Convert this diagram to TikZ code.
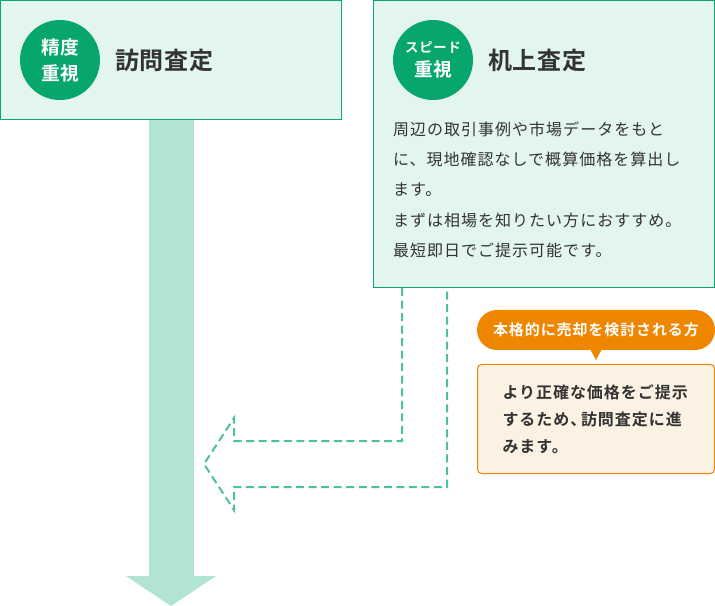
\documentclass[tikz,border=0pt]{standalone}
\usepackage{fontspec}
\usepackage{xcolor}
\usetikzlibrary{positioning,shapes}
\newfontfamily\cjkbody[LetterSpace=6.4]{Noto Sans CJK JP}
\newfontfamily\cjknote[LetterSpace=6,BoldFont={Noto Sans CJK JP Bold}]{Noto Sans CJK JP}
\newfontfamily\cjkhead[LetterSpace=6,BoldFont={Noto Sans CJK JP Bold}]{Noto Sans CJK JP}
\newfontfamily\cjktitle[LetterSpace=3.5,BoldFont={Noto Sans CJK JP Bold}]{Noto Sans CJK JP}
\definecolor{panelline}{HTML}{06A66D}
\definecolor{panelfill}{HTML}{E3F5EF}
\definecolor{flowfill}{HTML}{B2E4D2}
\definecolor{dashline}{HTML}{4EC197}
\definecolor{calloutfill}{HTML}{EF8600}
\definecolor{notefill}{HTML}{FCF2E4}
\definecolor{inktext}{HTML}{333333}
\begin{document}
\begin{tikzpicture}[x=0.75pt,y=-0.75pt]
\tikzstyle{every node}+=[inner sep=0pt,outer sep=0pt]
\tikzstyle{panel}=[draw=panelline,fill=panelfill,line width=0.75pt,anchor=north west]
\tikzstyle{badge}=[circle,fill=panelline,minimum size=60pt,text=white,align=center,font=\cjktitle\bfseries\fontsize{14}{19.5}\selectfont]
\tikzstyle{title}=[anchor=west,text=inktext,font=\cjktitle\bfseries\fontsize{18}{20}\selectfont]
\tikzstyle{body}=[anchor=north west,align=left,text=inktext,font=\cjkbody\fontsize{12}{22.6}\selectfont]
\useasboundingbox (0,0) rectangle (715,606);
% flow arrow behind the panels
\fill [flowfill] (149,119) -- (194,119) -- (194,576) -- (216,576) -- (171,606) -- (126,576) -- (149,576) -- cycle;
% left panel
\node (seido) [panel,minimum width=255.6pt,minimum height=89.1pt] at (0.5,0.5) {};
\node (seidobadge) [badge] at (60,60) {精度\\重視};
\node (seidotitle) [title] at (115,60) {訪問査定};
% right panel
\node (speed) [panel,minimum width=255.75pt,minimum height=215.25pt] at (373.5,0.5) {};
\node (speedbadge) [badge,font=\cjkhead\bfseries\fontsize{10}{18}\selectfont] at (433,60) {スピード\\{\cjktitle\bfseries\fontsize{14}{18}\selectfont 重視}};
\node (speedtitle) [title] at (488,60) {机上査定};
\node (speedtext) [body] at (393,122) {周辺の取引事例や市場データをもと\\に、現地確認なしで概算価格を算出し\\ます。\\まずは相場を知りたい方におすすめ。\\最短即日でご提示可能です。};
% dashed arrow from the right panel
\coordinate (dashin) at (402,288);
\coordinate (dashout) at (447,288);
\draw [dashline,line width=1.5pt,dash pattern=on 6pt off 3.4pt] (dashin) -- (402,441) -- (234,441) -- (234,418) -- (204,464) -- (234,510) -- (234,487) -- (447,487) -- (dashout);
% callout and note
\fill [calloutfill] (590,349) -- (602,349) -- (596,360) -- cycle;
\node (callout) [fill=calloutfill,rounded corners=15pt,minimum width=178.5pt,minimum height=30pt,anchor=north west,text=white,font=\cjkhead\bfseries\fontsize{11.25}{14}\selectfont] at (477,310) {本格的に売却を検討される方};
\node (note) [draw=calloutfill,fill=notefill,line width=0.75pt,rounded corners=3pt,minimum width=177.75pt,minimum height=81.75pt,anchor=north west] at (477.5,364.5) {};
\node (notetext) [anchor=north west,align=left,text=inktext,font=\cjknote\bfseries\fontsize{12}{20}\selectfont] at (502.5,385) {より正確な価格をご提示\\するため、\kern-4pt 訪問査定に進\\みます。};
\end{tikzpicture}
\end{document}
